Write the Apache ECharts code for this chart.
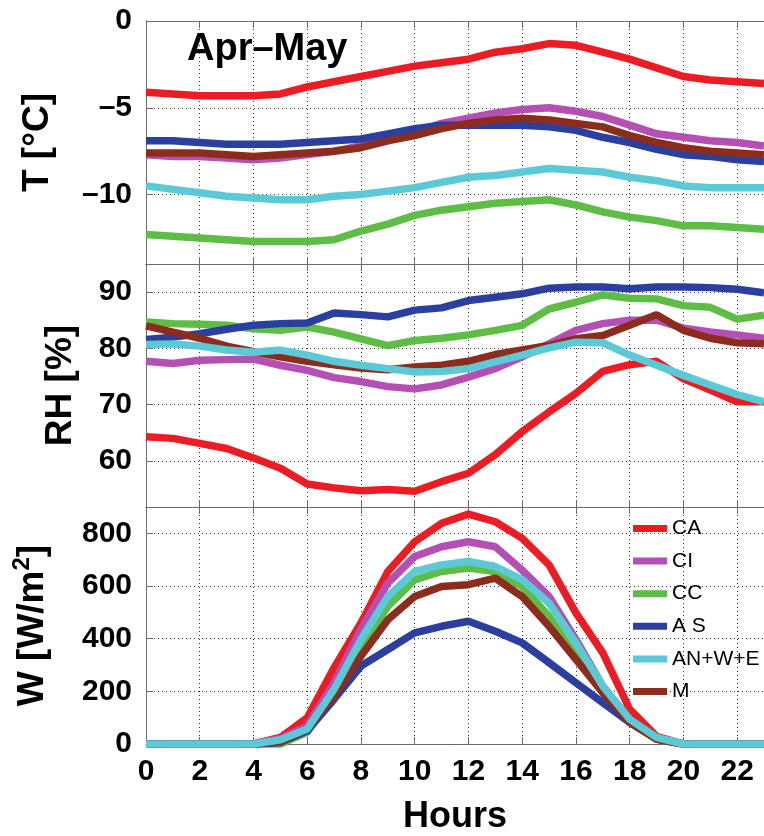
<!DOCTYPE html>
<html>
<head>
<meta charset="utf-8">
<style>
  html, body { margin: 0; padding: 0; background: #fff; }
  #chart { width: 764px; height: 836px; }
</style>
<script src="https://cdn.jsdelivr.net/npm/echarts@6/dist/echarts.min.js"></script>
</head>
<body>
<div id="chart"></div>
<script>
// Hour of day, 0..23
const hours = [0,1,2,3,4,5,6,7,8,9,10,11,12,13,14,15,16,17,18,19,20,21,22,23];

// Group names (legend order) and colours
const groups = ['CA', 'CI', 'CC', 'A S', 'AN+W+E', 'M'];
const groupColors = ['#ec1c24', '#b44fb3', '#5dbd45', '#2a3f9f', '#5ccad6', '#8b2c1d'];

// Air temperature [°C]
const tempCA = [-4.1,-4.2,-4.3,-4.3,-4.3,-4.2,-3.8,-3.5,-3.2,-2.9,-2.6,-2.4,-2.2,-1.8,-1.6,-1.3,-1.4,-1.8,-2.2,-2.7,-3.2,-3.4,-3.5,-3.6];
const tempCI = [-7.7,-7.8,-7.8,-7.9,-8.0,-7.9,-7.7,-7.5,-7.2,-6.8,-6.4,-5.9,-5.6,-5.3,-5.1,-5.0,-5.2,-5.5,-6.0,-6.5,-6.7,-6.9,-7.0,-7.2];
const tempCC = [-12.3,-12.4,-12.5,-12.6,-12.7,-12.7,-12.7,-12.6,-12.1,-11.7,-11.2,-10.9,-10.7,-10.5,-10.4,-10.3,-10.6,-11.0,-11.3,-11.5,-11.8,-11.8,-11.9,-12.0];
const tempAS = [-6.9,-6.9,-7.0,-7.1,-7.1,-7.1,-7.0,-6.9,-6.8,-6.5,-6.2,-6.0,-6.0,-6.0,-6.0,-6.1,-6.3,-6.7,-7.0,-7.4,-7.7,-7.8,-8.0,-8.1];
const tempAN = [-9.5,-9.7,-9.9,-10.1,-10.2,-10.3,-10.3,-10.1,-10.0,-9.8,-9.6,-9.3,-9.0,-8.9,-8.7,-8.5,-8.6,-8.7,-9.0,-9.2,-9.5,-9.6,-9.6,-9.6];
const tempM  = [-7.6,-7.6,-7.6,-7.7,-7.8,-7.7,-7.6,-7.5,-7.3,-6.9,-6.6,-6.2,-5.9,-5.7,-5.6,-5.7,-5.9,-6.1,-6.6,-7.0,-7.3,-7.5,-7.6,-7.7];

// Relative humidity [%]
const rhCA = [64.3,64.0,63.1,62.2,60.5,58.7,55.9,55.2,54.7,54.9,54.6,56.3,57.8,61.1,65.2,68.7,72.0,75.9,77.1,77.7,74.6,72.6,70.5,70.5];
const rhCI = [77.7,77.3,77.9,78.0,78.1,77.0,76.1,74.8,74.1,73.2,72.8,73.5,74.9,76.4,78.5,80.8,83.2,84.4,85.0,85.0,83.6,82.9,82.4,81.8];
const rhCC = [84.7,84.4,84.3,84.1,83.5,83.2,83.8,82.9,81.7,80.5,81.4,81.8,82.4,83.2,84.1,87.0,88.2,89.5,88.9,88.8,87.6,87.3,85.2,85.9];
const rhAS = [81.6,82.0,82.6,83.4,84.1,84.4,84.5,86.3,86.0,85.6,86.8,87.2,88.5,89.1,89.7,90.7,90.9,90.9,90.6,90.9,90.9,90.8,90.5,89.9];
const rhAN = [80.7,80.8,80.4,79.7,79.3,79.7,78.8,77.7,77.0,76.4,75.8,75.9,76.4,77.6,78.8,80.1,81.1,81.0,78.8,77.0,75.2,73.5,71.8,70.5];
const rhM  = [84.0,82.9,81.8,80.4,79.4,78.5,77.7,77.1,76.5,76.2,76.7,77.0,77.7,78.9,79.7,80.5,81.7,82.3,84.1,86.0,83.2,81.8,81.0,80.8];

// Incoming shortwave radiation [W/m²]
const swCA = [0,0,0,0,0,25,100,290,460,655,768,838,873,844,781,680,498,346,132,29,0,0,0,0];
const swCI = [0,0,0,0,0,20,69,233,435,611,712,749,768,749,660,560,397,220,94,19,0,0,0,0];
const swCC = [0,0,0,0,0,0,44,195,372,523,623,655,668,655,598,485,334,195,82,19,0,0,0,0];
const swAS = [0,0,0,0,0,6,50,170,296,359,422,447,466,428,384,309,233,157,82,19,0,0,0,0];
const swAN = [0,0,0,0,0,16,57,208,397,560,655,680,693,674,624,535,384,220,94,25,0,0,0,0];
const swM  = [0,0,0,0,0,9,57,183,334,472,560,598,605,630,560,447,321,195,82,19,0,0,0,0];

// Tick values
const hourTicks = [0,2,4,6,8,10,12,14,16,18,20,22];
const tempTicks = [-10,-5,0];
const rhTicks = [60,70,80,90];
const swTicks = [0,200,400,600,800];

const FONT = '"Liberation Sans", Arial, Helvetica, sans-serif';
const FRAME = '#6b6b6b';

const panels = [
  { top: 21,  height: 243, min: -14,  max: 0,   ticks: tempTicks, nameGap: 90,
    name: 'T [°C]', sets: [tempCA, tempCI, tempCC, tempAS, tempAN, tempM] },
  { top: 264, height: 243, min: 51.8, max: 95,  ticks: rhTicks, nameGap: 67,
    name: 'RH [%]', sets: [rhCA, rhCI, rhCC, rhAS, rhAN, rhM] },
  { top: 507, height: 238, min: 0,    max: 900, ticks: swTicks, nameGap: 90,
    name: '{b|W [W/m}{s|2}{b|]}', sets: [swCA, swCI, swCC, swAS, swAN, swM] }
];

const fmtNum = v => (v < 0 ? '\u2013' + Math.abs(v) : String(v));

const grid = [], xAxis = [], yAxis = [], series = [];
// draw order: M before AN+W+E so the cyan line sits on top
const drawOrder = [0, 1, 2, 3, 5, 4];

panels.forEach((p, i) => {
  grid.push({ left: 146, right: 0, top: p.top, height: p.height, containLabel: false });
  const last = i === panels.length - 1;
  // bottom hour axis
  xAxis.push({
    type: 'value', gridIndex: i, min: 0, max: 23, position: 'bottom',
    axisLine: { show: true, onZero: false, lineStyle: { color: FRAME, width: 1 } },
    axisTick: { show: true, inside: true, length: 7, customValues: hourTicks, lineStyle: { color: FRAME } },
    axisLabel: {
      show: last, customValues: hourTicks, margin: 13,
      fontFamily: FONT, fontWeight: 'bold', fontSize: 30, color: '#000'
    },
    splitLine: { show: true, lineStyle: { color: '#333', width: 1, type: [1, 3] } },
    name: last ? 'Hours' : '', nameLocation: 'middle', nameGap: 55,
    nameTextStyle: { fontFamily: FONT, fontWeight: 'bold', fontSize: 36, color: '#000' }
  });
  // top frame with inward ticks
  xAxis.push({
    type: 'value', gridIndex: i, min: 0, max: 23, position: 'top',
    axisLine: { show: true, onZero: false, lineStyle: { color: FRAME, width: 1 } },
    axisTick: { show: true, inside: true, length: 7, customValues: hourTicks, lineStyle: { color: FRAME } },
    axisLabel: { show: false },
    splitLine: { show: false }
  });
  yAxis.push({
    type: 'value', gridIndex: i, min: p.min, max: p.max,
    axisLine: { show: true, onZero: false, lineStyle: { color: FRAME, width: 1 } },
    axisTick: { show: true, inside: true, length: 7, customValues: p.ticks, lineStyle: { color: FRAME } },
    axisLabel: {
      customValues: p.ticks, margin: 14, formatter: fmtNum,
      fontFamily: FONT, fontWeight: 'bold', fontSize: 30, color: '#000'
    },
    splitLine: { show: true, lineStyle: { color: '#333', width: 1, type: [1, 3] } },
    name: p.name, nameLocation: 'middle', nameGap: p.nameGap,
    nameTextStyle: {
      fontFamily: FONT, fontWeight: 'bold', fontSize: 37, color: '#000',
      rich: {
        b: { fontFamily: FONT, fontWeight: 'bold', fontSize: 37, color: '#000' },
        s: { fontFamily: FONT, fontWeight: 'bold', fontSize: 24, color: '#000', padding: [0, 0, 22, 0] }
      }
    }
  });
  drawOrder.forEach(k => {
    series.push({
      type: 'line', name: groups[k],
      xAxisIndex: i * 2, yAxisIndex: i,
      data: hours.map((h, j) => [h, p.sets[k][j]]),
      showSymbol: false, symbol: 'none', smooth: false, clip: false,
      lineStyle: { color: groupColors[k], width: 7.5 },
      itemStyle: { color: groupColors[k] },
      emphasis: { disabled: true }, animation: false
    });
  });
});

const chart = echarts.init(document.getElementById('chart'), null, { renderer: 'canvas' });
chart.setOption({
  animation: false,
  backgroundColor: '#fff',
  grid, xAxis, yAxis, series,
  legend: {
    data: groups, orient: 'vertical', left: 633, top: 518, padding: 0,
    icon: 'rect', itemWidth: 34, itemHeight: 7, itemGap: 11.6,
    textStyle: { fontFamily: FONT, fontSize: 21, lineHeight: 21, color: '#000' },
    selectedMode: false
  },
  graphic: [{
    type: 'text', left: 187, top: 31,
    style: { text: 'Apr\u2013May', font: 'bold 38px ' + FONT, fill: '#000' }
  }]
});
</script>
</body>
</html>
